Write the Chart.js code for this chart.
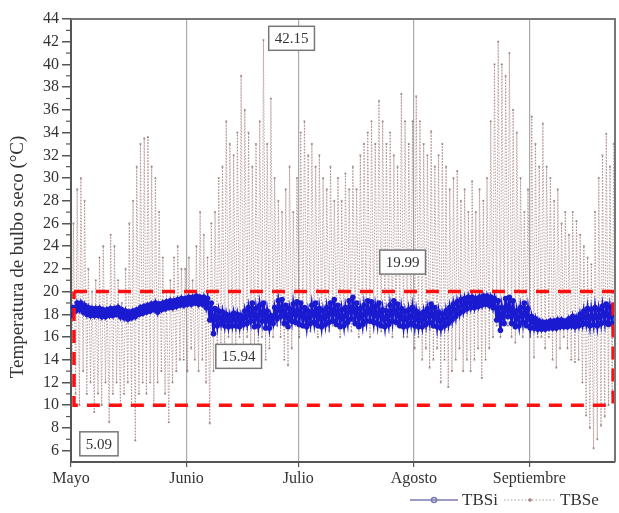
<!DOCTYPE html>
<html>
<head>
<meta charset="utf-8">
<script src="https://cdn.jsdelivr.net/npm/chart.js@4.4.1/dist/chart.umd.min.js"></script>
<style>
  html, body { margin: 0; padding: 0; background: #fff; }
  #chart { display: block; }
</style>
</head>
<body>
<canvas id="chart" width="619" height="513"></canvas>
<script>
// ********************** Data ********************** //
// days counted from 1 May, one max and one min per day
const monthLabels = ['Mayo', 'Junio', 'Julio', 'Agosto', 'Septiembre'];
const monthStartDays = [0, 31, 61, 92, 123];
const yTickValues = [6, 8, 10, 12, 14, 16, 18, 20, 22, 24, 26, 28, 30, 32, 34, 36, 38, 40, 42, 44];

// outdoor dry bulb (TBSe)
const tbseMax = [
    26, 29, 30, 28, 22, 20, 21, 23, 24, 20,
    25, 24, 21, 19, 22, 26, 28, 31, 33, 33.5,
    33.6, 31, 30, 27, 23, 20, 21, 23, 24, 22,
    22, 23, 21, 24, 27, 25, 23, 26, 27, 30,
    31, 35, 33, 32, 34, 39, 36, 34, 31, 33,
    35, 42.15, 33, 37, 30, 28, 27, 29, 31, 27,
    30, 34, 35, 32, 33, 31, 32, 30, 29, 31,
    28, 30, 28, 30.4, 29, 31, 29, 32, 33, 34,
    35, 33, 36.8, 35, 33, 34, 32, 31, 37.4, 35,
    33, 35, 37.2, 35, 33, 32, 34.1, 31, 32, 33,
    31, 29, 30, 30.6, 28, 29, 27, 29.7, 27, 29,
    28, 30, 35, 40, 42, 40, 39, 41, 36, 34,
    30, 27, 29, 35.4, 33, 31, 34.8, 31, 30, 28,
    29, 26, 27, 25, 27, 26.2, 25, 24, 23, 22.4,
    27, 30, 32, 33.9, 31, 33
];
const tbseMin = [
    12, 11, 10, 13, 11, 12, 9.4, 11, 10, 12,
    8.5, 11, 12, 10, 11, 12, 10, 6.9, 11, 12,
    11, 12, 10, 12, 13, 11, 8.5, 12, 13, 14,
    14, 13, 15, 14, 13, 14, 12, 8.4, 13, 14,
    15, 14, 16, 15, 14, 16, 15, 16, 14, 15,
    15, 16, 14, 15, 16, 17, 16, 14, 13.5, 15,
    17, 16, 17, 17, 16.5, 17, 16, 17, 17, 16.5,
    17, 17, 16, 17, 17, 16.5, 17, 16, 17, 17,
    16, 17, 17, 16.5, 17, 17, 16, 17, 17, 16,
    16, 17, 15, 16, 14, 15, 13.3, 14, 15, 12,
    14, 11.6, 13, 14, 15, 13, 14, 13, 14, 15,
    12.4, 14, 15, 16, 17, 16, 17, 17, 16, 15.5,
    17, 16, 17, 16, 14.2, 16, 16, 15, 16, 14,
    13.3, 15, 16, 15, 14, 13.8, 14, 12, 9.1, 8,
    6.2, 7, 8.2, 9, 10, 11
];

// indoor dry bulb (TBSi)
const tbsiMax = [
    18.6, 19.0, 19.0, 18.8, 18.6, 18.5, 18.5, 18.5, 18.4, 18.4,
    18.5, 18.5, 18.6, 18.4, 18.3, 18.2, 18.3, 18.4, 18.6, 18.7,
    18.8, 18.9, 19.0, 18.9, 19.0, 19.1, 19.2, 19.2, 19.3, 19.4,
    19.4, 19.5, 19.5, 19.6, 19.5, 19.5, 19.4, 19.0, 18.5, 18.3,
    18.2, 18.0, 17.9, 18.1, 18.0, 17.9, 18.3, 18.6, 19.0, 18.5,
    18.8, 19.0, 18.3, 17.9, 18.6, 19.2, 19.3, 18.8, 18.5, 18.9,
    19.1, 19.0, 18.6, 18.3, 18.8, 19.0, 18.5, 18.3, 18.6, 19.0,
    19.3, 18.8, 18.4, 18.6, 19.2, 19.5, 19.0, 18.5, 18.8, 19.2,
    19.1, 18.7, 19.0, 18.4, 18.3, 18.8, 19.2, 18.9, 18.5, 18.2,
    18.4, 18.6, 18.3, 18.0, 18.2, 18.5, 18.9, 18.6, 18.2, 18.0,
    18.3, 18.6, 18.9, 19.1, 19.3, 19.4, 19.5, 19.5, 19.4, 19.5,
    19.6, 19.6, 19.5, 19.4, 19.2, 18.6, 19.4, 19.5, 19.2, 18.3,
    18.6, 19.0, 18.5, 17.8, 17.6, 17.4, 17.3, 17.3, 17.4, 17.4,
    17.5, 17.5, 17.4, 17.6, 17.8, 17.7, 18.0, 18.3, 18.5, 18.4,
    18.6, 18.4, 18.7, 18.9, 18.6, 18.8
];
const tbsiMin = [
    17.9, 18.3, 18.4, 18.2, 18.0, 17.9, 17.9, 17.9, 17.8, 17.8,
    17.9, 17.9, 18.0, 17.8, 17.7, 17.6, 17.7, 17.8, 18.0, 18.1,
    18.2, 18.3, 18.4, 18.2, 18.4, 18.5, 18.6, 18.6, 18.7, 18.8,
    18.8, 18.9, 18.9, 19.0, 18.9, 18.9, 18.6, 17.5, 16.3, 17.0,
    17.2, 17.0, 16.9, 17.0, 17.0, 16.9, 17.1, 17.2, 17.4, 16.9,
    17.0, 17.4, 16.8, 16.8, 17.2, 17.6, 17.8, 17.2, 16.9, 17.4,
    17.3, 17.1, 17.0, 16.9, 17.2, 17.3, 17.0, 16.9, 17.1, 17.3,
    17.4, 17.1, 16.9, 17.0, 17.3, 17.6, 17.2, 16.9, 17.1, 17.4,
    17.4, 17.3, 17.2, 17.0, 16.9, 17.1, 17.4, 17.3, 17.0, 16.9,
    17.0, 17.2, 17.0, 16.9, 16.9, 17.1, 17.3, 17.0, 16.9, 16.8,
    17.0, 17.2, 17.5, 17.8, 18.1, 18.3, 18.5, 18.6, 18.6, 18.7,
    18.8, 18.9, 18.8, 18.6, 17.5, 16.6, 17.2, 17.8, 17.2, 16.9,
    17.0, 17.3, 17.0, 16.8, 16.8, 16.7, 16.7, 16.7, 16.8, 16.8,
    16.8, 16.9, 16.9, 16.9, 17.0, 16.9, 17.0, 17.1, 17.2, 17.0,
    17.1, 17.0, 17.2, 17.3, 17.1, 17.2
];

// comfort band (red dashed box)
const bandDays = [0.8, 145.5];
const bandTemps = [10, 20];

// value labels
const noteTexts = ['42.15', '19.99', '15.94', '5.09'];
const noteDays = [59.2, 89, 45, 7.5];
const noteTemps = [42.3, 22.6, 14.3, 6.6];

// ********************** Build series ********************** //
// min early in the day, max in the afternoon
function dailyPoints(mins, maxs) {
    var pts = [];
    for (var d = 0; d < mins.length; d++) {
        pts.push({ x: d + 0.25, y: mins[d] });
        pts.push({ x: d + 0.65, y: maxs[d] });
    }
    return pts;
}

const bandPoints = [
    { x: bandDays[0], y: bandTemps[1] },
    { x: bandDays[1], y: bandTemps[1] },
    { x: bandDays[1], y: bandTemps[0] },
    { x: bandDays[0], y: bandTemps[0] },
    { x: bandDays[0], y: bandTemps[1] }
];

const serif = '"Liberation Serif", "DejaVu Serif", serif';

// frame, minor ticks, notes, y title and legend
const extras = {
    id: 'extras',
    afterDraw(chart) {
        const ctx = chart.ctx;
        const a = chart.chartArea;
        const xs = chart.scales.x;
        const ys = chart.scales.y;
        ctx.save();

        // box around plot
        ctx.strokeStyle = '#777';
        ctx.lineWidth = 2;
        ctx.beginPath();
        ctx.moveTo(a.left, a.top);
        ctx.lineTo(a.right, a.top);
        ctx.lineTo(a.right, a.bottom);
        ctx.stroke();

        // minor ticks on y
        ctx.strokeStyle = '#555';
        ctx.lineWidth = 1.2;
        for (var v = 7; v <= 43; v += 2) {
            var py = ys.getPixelForValue(v);
            ctx.beginPath();
            ctx.moveTo(a.left - 5, py);
            ctx.lineTo(a.left, py);
            ctx.stroke();
        }

        // value notes
        ctx.font = '15px ' + serif;
        ctx.textAlign = 'center';
        ctx.textBaseline = 'middle';
        for (var i = 0; i < noteTexts.length; i++) {
            var cx = xs.getPixelForValue(noteDays[i]);
            var cy = ys.getPixelForValue(noteTemps[i]);
            var w = ctx.measureText(noteTexts[i]).width + 12;
            var h = 24;
            ctx.fillStyle = '#fff';
            ctx.fillRect(cx - w / 2, cy - h / 2, w, h);
            ctx.strokeStyle = '#777';
            ctx.lineWidth = 1.5;
            ctx.strokeRect(cx - w / 2, cy - h / 2, w, h);
            ctx.fillStyle = '#333';
            ctx.fillText(noteTexts[i], cx, cy + 1);
        }

        // y title
        ctx.save();
        ctx.translate(18, 257);
        ctx.rotate(-Math.PI / 2);
        ctx.font = '19px ' + serif;
        ctx.fillStyle = '#333';
        ctx.fillText('Temperatura de bulbo seco (°C)', 0, 0);
        ctx.restore();

        // legend
        var ly = 500;
        ctx.font = '17px ' + serif;
        ctx.textAlign = 'left';
        ctx.fillStyle = '#333';
        ctx.strokeStyle = '#7a7ab0';
        ctx.lineWidth = 1.5;
        ctx.beginPath();
        ctx.moveTo(410, ly);
        ctx.lineTo(458, ly);
        ctx.stroke();
        ctx.beginPath();
        ctx.arc(434, ly, 2.5, 0, Math.PI * 2);
        ctx.stroke();
        ctx.fillText('TBSi', 462, ly + 1);

        ctx.strokeStyle = '#b09a9a';
        ctx.lineWidth = 1;
        ctx.setLineDash([1.5, 2]);
        ctx.beginPath();
        ctx.moveTo(504, ly);
        ctx.lineTo(556, ly);
        ctx.stroke();
        ctx.setLineDash([]);
        ctx.fillStyle = '#a08080';
        ctx.beginPath();
        ctx.arc(530, ly, 1.8, 0, Math.PI * 2);
        ctx.fill();
        ctx.fillStyle = '#333';
        ctx.fillText('TBSe', 560, ly + 1);

        ctx.restore();
    }
};

// ********************** Chart ********************** //
const chart = new Chart(document.getElementById('chart'), {
    type: 'line',
    data: {
        datasets: [
            {
                label: 'Banda',
                data: bandPoints,
                borderColor: '#ff1010',
                borderWidth: 3.5,
                borderDash: [13, 9],
                pointRadius: 0,
                fill: false,
                order: 0
            },
            {
                label: 'TBSi',
                data: dailyPoints(tbsiMin, tbsiMax),
                borderColor: '#1a1ad0',
                borderWidth: 2.5,
                pointRadius: 2.8,
                pointBackgroundColor: '#1a1ad0',
                pointBorderWidth: 0,
                order: 1
            },
            {
                label: 'TBSe',
                data: dailyPoints(tbseMin, tbseMax),
                borderColor: 'rgba(160, 120, 120, 0.7)',
                borderWidth: 1,
                borderDash: [1.5, 1.5],
                pointRadius: 1.1,
                pointBackgroundColor: 'rgba(110, 75, 75, 0.55)',
                pointBorderWidth: 0,
                order: 2
            }
        ]
    },
    options: {
        responsive: false,
        animation: false,
        layout: { padding: { top: 19, right: 2, left: 0, bottom: 0 } },
        plugins: {
            legend: { display: false },
            tooltip: { enabled: false }
        },
        scales: {
            x: {
                type: 'linear',
                min: 0,
                max: 146,
                afterBuildTicks: (scale) => {
                    scale.ticks = monthStartDays.map(v => ({ value: v }));
                },
                afterFit: (scale) => { scale.height = 51; },
                ticks: {
                    autoSkip: false,
                    maxRotation: 0,
                    padding: 2,
                    color: '#333',
                    font: { family: serif, size: 16 },
                    callback: (value, index) => monthLabels[index]
                },
                grid: {
                    color: '#aaa',
                    lineWidth: 1.2,
                    tickLength: 5,
                    tickColor: '#555'
                },
                border: { display: true, color: '#555', width: 2 }
            },
            y: {
                type: 'linear',
                min: 5,
                max: 44,
                afterBuildTicks: (scale) => {
                    scale.ticks = yTickValues.map(v => ({ value: v }));
                },
                afterFit: (scale) => { scale.width = 71; },
                ticks: {
                    padding: 3,
                    color: '#333',
                    font: { family: serif, size: 16 },
                    callback: (value) => value
                },
                grid: {
                    drawOnChartArea: false,
                    tickLength: 9,
                    tickColor: '#555',
                    lineWidth: 1.5
                },
                border: { display: true, color: '#555', width: 2 }
            }
        }
    },
    plugins: [extras]
});
</script>
</body>
</html>
